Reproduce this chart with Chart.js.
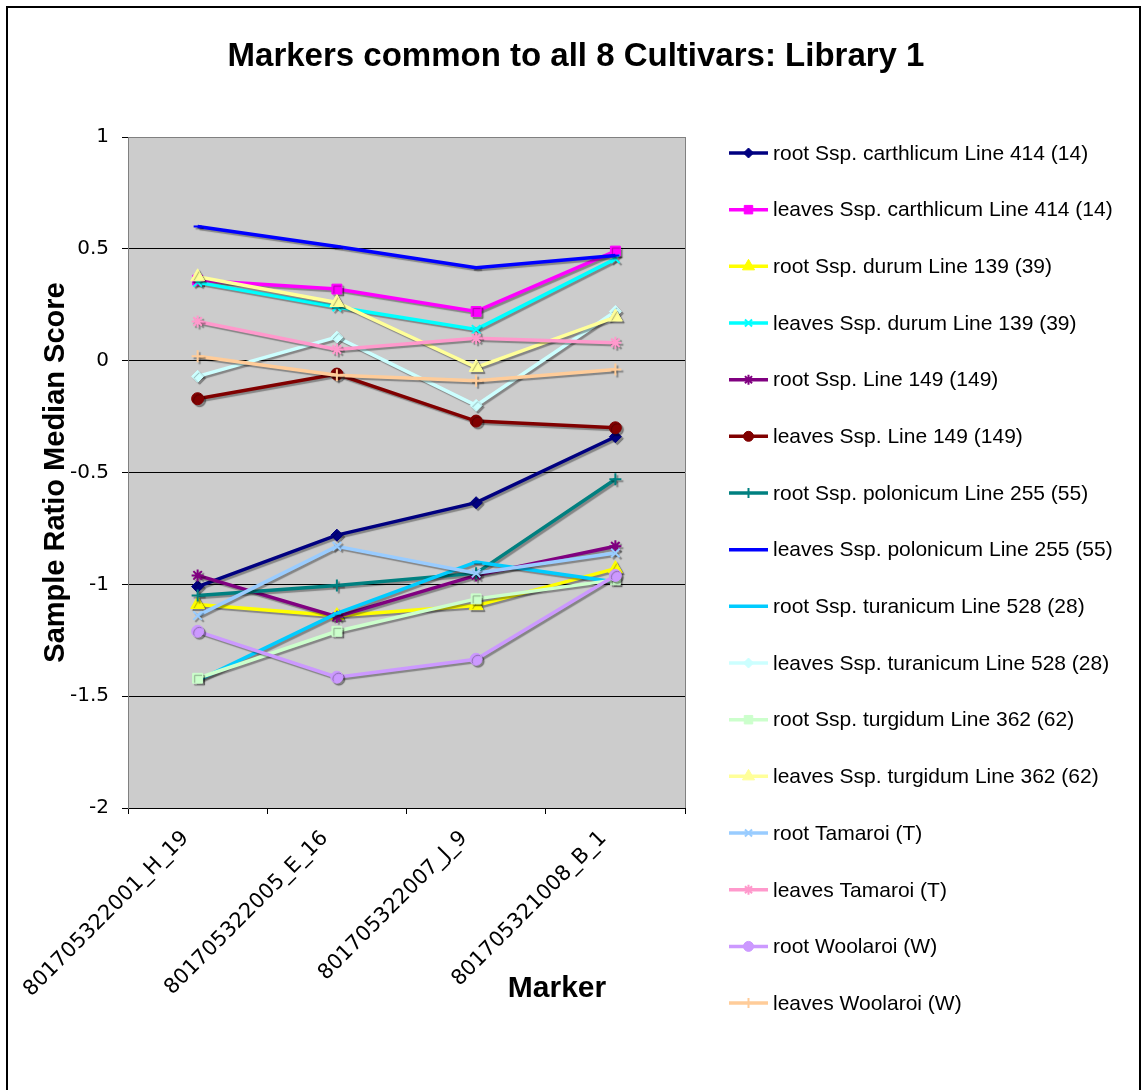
<!DOCTYPE html>
<html>
<head>
<meta charset="utf-8">
<script src="https://cdn.jsdelivr.net/npm/chart.js@4.4.1/dist/chart.umd.min.js"></script>
<style>
html,body{margin:0;padding:0;background:#fff;}
#wrap{width:1142px;height:1090px;position:relative;}
</style>
</head>
<body>
<div id="wrap"><canvas id="c" width="1142" height="1090"></canvas></div>
<script>
const chartTitle = "Markers common to all 8 Cultivars: Library 1";
const yAxisTitle = "Sample Ratio Median Score";
const xAxisTitle = "Marker";
const categories = ["801705322001_H_19", "801705322005_E_16", "801705322007_J_9", "801705321008_B_1"];
const yTicks = [1, 0.5, 0, -0.5, -1, -1.5, -2];

const seriesLabels = [
  "root Ssp. carthlicum Line 414 (14)",
  "leaves Ssp. carthlicum Line 414 (14)",
  "root Ssp. durum Line 139 (39)",
  "leaves Ssp. durum Line 139 (39)",
  "root Ssp. Line 149 (149)",
  "leaves Ssp. Line 149 (149)",
  "root Ssp. polonicum Line 255 (55)",
  "leaves Ssp. polonicum Line 255 (55)",
  "root Ssp. turanicum Line 528 (28)",
  "leaves Ssp. turanicum Line 528 (28)",
  "root Ssp. turgidum Line 362 (62)",
  "leaves Ssp. turgidum Line 362 (62)",
  "root Tamaroi (T)",
  "leaves Tamaroi (T)",
  "root Woolaroi (W)",
  "leaves Woolaroi (W)"
];

const rootCarthlicum   = [-1.01, -0.78, -0.635, -0.34];
const leavesCarthlicum = [0.36, 0.32, 0.22, 0.49];
const rootDurum        = [-1.09, -1.14, -1.095, -0.93];
const leavesDurum      = [0.35, 0.24, 0.14, 0.455];
const rootLine149      = [-0.96, -1.145, -0.96, -0.83];
const leavesLine149    = [-0.17, -0.06, -0.27, -0.30];
const rootPolonicum    = [-1.05, -1.005, -0.95, -0.53];
const leavesPolonicum  = [0.60, 0.51, 0.415, 0.47];
const rootTuranicum    = [-1.43, -1.13, -0.90, -0.99];
const leavesTuranicum  = [-0.07, 0.105, -0.20, 0.22];
const rootTurgidum     = [-1.42, -1.21, -1.065, -0.98];
const leavesTurgidum   = [0.375, 0.26, -0.03, 0.195];
const rootTamaroi      = [-1.14, -0.83, -0.95, -0.86];
const leavesTamaroi    = [0.175, 0.05, 0.10, 0.08];
const rootWoolaroi     = [-1.21, -1.415, -1.335, -0.96];
const leavesWoolaroi   = [0.02, -0.065, -0.09, -0.04];

const seriesValues = [rootCarthlicum, leavesCarthlicum, rootDurum, leavesDurum, rootLine149, leavesLine149,
  rootPolonicum, leavesPolonicum, rootTuranicum, leavesTuranicum, rootTurgidum, leavesTurgidum,
  rootTamaroi, leavesTamaroi, rootWoolaroi, leavesWoolaroi];

const seriesColors = ["#000080", "#FF00FF", "#FFFF00", "#00FFFF", "#800080", "#800000", "#008080", "#0000FF",
  "#00CCFF", "#CCFFFF", "#CCFFCC", "#FFFF99", "#99CCFF", "#FF99CC", "#CC99FF", "#FFCC99"];
const seriesMarkers = ["rectRot", "rect", "triangle", "crossRot", "star", "circle", "cross", "line",
  "line", "rectRot", "rect", "triangle", "crossRot", "star", "circle", "cross"];
const markerRadius = {rectRot: 6, rect: 7, triangle: 8, crossRot: 6, star: 6, circle: 6, cross: 6, line: 4};

const datasets = seriesLabels.map((lab, i) => ({
  label: lab,
  data: seriesValues[i],
  borderColor: seriesColors[i],
  backgroundColor: seriesColors[i],
  pointStyle: seriesMarkers[i],
  pointRadius: markerRadius[seriesMarkers[i]],
  pointHoverRadius: markerRadius[seriesMarkers[i]],
  pointBorderWidth: (["crossRot","star","cross","line"].includes(seriesMarkers[i])) ? 2 : 1,
  borderWidth: 3.5,
  tension: 0,
  fill: false,
  order: -i
}));

const FRAME = {left: 128, right: 685, top: 137, bottom: 808};

const decorPlugin = {
  id: 'decor',
  beforeDraw(chart) {
    const ctx = chart.ctx, a = chart.chartArea;
    ctx.save();
    ctx.fillStyle = '#fff';
    ctx.fillRect(0, 0, chart.width, chart.height);
    ctx.strokeStyle = '#000';
    ctx.lineWidth = 2;
    ctx.beginPath();
    ctx.moveTo(7, 1095); ctx.lineTo(7, 7); ctx.lineTo(1140, 7); ctx.lineTo(1140, 1095);
    ctx.stroke();
    ctx.fillStyle = '#CCCCCC';
    ctx.fillRect(a.left, a.top, a.right - a.left, a.bottom - a.top);
    // chart title
    ctx.fillStyle = '#000';
    ctx.font = 'bold 33px "Liberation Sans", Arial, sans-serif';
    ctx.textAlign = 'center';
    ctx.textBaseline = 'middle';
    ctx.fillText(chartTitle, 576, 57);
    ctx.restore();
  },
  beforeDatasetsDraw(chart) {
    const ctx = chart.ctx, a = chart.chartArea;
    ctx.save();
    ctx.strokeStyle = '#808080';
    ctx.lineWidth = 1;
    ctx.beginPath();
    ctx.moveTo(a.right + 0.5, a.top);
    ctx.lineTo(a.right + 0.5, a.bottom);
    ctx.stroke();
    ctx.restore();
  },
  beforeDatasetDraw(chart) {
    const ctx = chart.ctx;
    ctx.save();
    ctx.shadowColor = 'rgba(0,0,0,0.35)';
    ctx.shadowOffsetX = 2;
    ctx.shadowOffsetY = 2;
    ctx.shadowBlur = 1;
  },
  afterDatasetDraw(chart) {
    chart.ctx.restore();
  },
  afterDraw(chart) {
    const ctx = chart.ctx;
    ctx.save();
    ctx.fillStyle = '#000';
    ctx.font = 'bold 30px "Liberation Sans", Arial, sans-serif';
    ctx.textAlign = 'center';
    ctx.textBaseline = 'middle';
    ctx.fillText(xAxisTitle, 557, 989);
    // legend
    const x0 = 729, x1 = 768, tx = 773, y0 = 153, step = 56.67;
    ctx.font = '21px "Liberation Sans", Arial, sans-serif';
    ctx.textAlign = 'left';
    chart.data.datasets.forEach((ds, i) => {
      const y = y0 + i * step;
      ctx.strokeStyle = ds.borderColor;
      ctx.lineWidth = 3.5;
      ctx.beginPath();
      ctx.moveTo(x0, y); ctx.lineTo(x1, y);
      ctx.stroke();
      const st = ds.pointStyle;
      if (st !== 'line') {
        ctx.fillStyle = ds.backgroundColor;
        ctx.strokeStyle = ds.borderColor;
        ctx.lineWidth = ds.pointBorderWidth;
        Chart.helpers.drawPoint(ctx, {pointStyle: st, radius: ds.pointRadius - 1, rotation: 0, borderWidth: ds.pointBorderWidth}, (x0 + x1) / 2, y);
      }
      ctx.fillStyle = '#000';
      ctx.fillText(ds.label, tx, y + 1);
    });
    ctx.restore();
  }
};

new Chart(document.getElementById('c'), {
  type: 'line',
  data: {labels: categories, datasets: datasets},
  options: {
    responsive: false,
    animation: false,
    events: [],
    layout: {padding: {left: 0, right: 1142 - FRAME.right, top: FRAME.top, bottom: 0}},
    plugins: {
      legend: {display: false},
      tooltip: {enabled: false},
      title: {display: false}
    },
    scales: {
      x: {
        type: 'category',
        offset: true,
        afterFit(scale) { scale.height = 1090 - FRAME.bottom; },
        grid: {display: true, offset: true, drawOnChartArea: false, drawTicks: true, tickLength: 6, tickColor: '#000', color: '#000'},
        border: {display: true, color: '#000', width: 1},
        ticks: {
          color: '#000',
          font: {family: '"DejaVu Sans", Verdana, sans-serif', size: 21},
          minRotation: 45, maxRotation: 45,
          padding: 12,
          labelOffset: -12,
          autoSkip: false
        }
      },
      y: {
        min: -2, max: 1,
        afterFit(scale) { scale.width = FRAME.left; },
        afterBuildTicks(scale) { scale.ticks = yTicks.map(v => ({value: v})); },
        grid: {
          drawTicks: true, tickLength: 6,
          color: (c) => (c.tick && c.tick.value === 1) ? '#808080' : '#000',
          tickColor: '#000',
          lineWidth: 1
        },
        border: {display: true, color: '#808080', width: 1},
        ticks: {
          color: '#000',
          font: {family: '"DejaVu Sans", Verdana, sans-serif', size: 20},
          padding: 13,
          callback: (v) => String(v)
        },
        title: {
          display: true,
          text: yAxisTitle,
          color: '#000',
          font: {family: '"Liberation Sans", Arial, sans-serif', size: 29, weight: 'bold', lineHeight: 1.2},
          padding: {top: 39, bottom: 0}
        }
      }
    }
  },
  plugins: [decorPlugin]
});
</script>
</body>
</html>
